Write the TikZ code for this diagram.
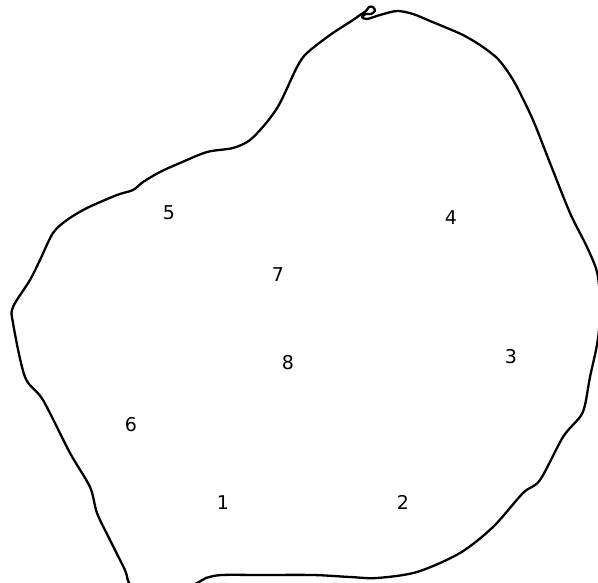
\documentclass[tikz,border=0pt]{standalone}
\usepackage{fontspec}
\setmainfont{DejaVu Sans}
\begin{document}
\begin{tikzpicture}[x=1pt,y=-1pt,
  outline/.style={line width=2.3pt, line join=round, line cap=round},
  num/.style={font=\fontsize{19}{22}\selectfont, inner sep=0pt}]
\useasboundingbox (0,0) rectangle (598,583);
\begin{scope}
\clip (0,0) rectangle (598,583);
\draw[outline] plot[smooth cycle, tension=0.5] coordinates {
 (353,20) (360,15) (366,11) (369,7) (373,7) (375,11) (371,14) (366,14) (362,17) (367,19) (380,15) (397,11) (413,14) (430,21) (447,28) (463,35) (480,45) (497,58) (508,72) (517,87) (533,120) (550,163) (570,213) (587,247) (597,272) (600,300) (599,330) (596,350) (590,377) (585,405) (580,417) (563,437) (540,480) (523,493) (493,527) (460,553) (417,572) (377,578) (350,577) (313,575) (260,575) (222,575) (206,578) (195,584) (165,594) (132,586) (125,570) (110,540) (97,513) (90,487) (70,453) (43,400) (25,377) (13,323) (13,307) (30,280) (40,260) (53,233) (67,220) (87,208) (117,195) (133,190) (143,182) (160,172) (180,163) (207,152) (233,148) (250,140) (267,122) (280,103) (297,67) (307,53) (330,35)};
\end{scope}
\node[num] (n5) at (169,213) {5};
\node[num] (n4) at (451,218) {4};
\node[num] (n7) at (278,275) {7};
\node[num] (n8) at (288,363) {8};
\node[num] (n3) at (511,357) {3};
\node[num] (n6) at (131,425) {6};
\node[num] (n1) at (223,503) {1};
\node[num] (n2) at (403,502) {2};
\end{tikzpicture}
\end{document}
